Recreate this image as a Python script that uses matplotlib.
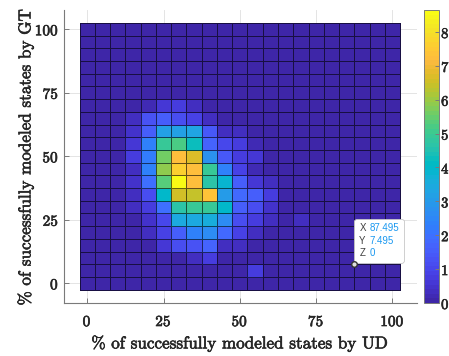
import numpy as np
import matplotlib
matplotlib.use("Agg")
import matplotlib.pyplot as plt
import matplotlib.patheffects as pe
from matplotlib.colors import ListedColormap
from matplotlib.offsetbox import AnnotationBbox, HPacker, TextArea

# Bin centres (percent) for both axes
x_centers = list(range(0, 105, 5))
y_centers = list(range(0, 105, 5))

# Tile values, one row per GT bin, listed from y=100 (top) down to y=0
counts_top_down = [
    [0, 0, 0, 0,   0,   0,   0,   0,   0,   0,   0,   0,   0,   0,   0,   0, 0, 0, 0, 0, 0],   # 100
    [0, 0, 0, 0,   0,   0,   0,   0,   0,   0,   0,   0,   0,   0,   0,   0, 0, 0, 0, 0, 0],   # 95
    [0, 0, 0, 0,   0,   0,   0,   0,   0,   0,   0,   0,   0,   0,   0,   0, 0, 0, 0, 0, 0],   # 90
    [0, 0, 0, 0,   0,   0,   0,   0,   0,   0,   0,   0,   0,   0,   0,   0, 0, 0, 0, 0, 0],   # 85
    [0, 0, 0, 0,   0,   0,   0,   0,   0,   0,   0,   0,   0,   0,   0,   0, 0, 0, 0, 0, 0],   # 80
    [0, 0, 0, 0,   0,   0,   0,   0,   0,   0,   0,   0,   0,   0,   0,   0, 0, 0, 0, 0, 0],   # 75
    [0, 0, 0, 0,   0.2, 0.6, 0.8, 0.4, 0,   0,   0,   0,   0,   0,   0,   0, 0, 0, 0, 0, 0],   # 70
    [0, 0, 0, 0.3, 1.3, 1.5, 1.1, 0.9, 0.3, 0,   0,   0,   0,   0,   0,   0, 0, 0, 0, 0, 0],   # 65
    [0, 0, 0, 0.5, 1.5, 3.2, 3.2, 3.3, 1.4, 0.3, 0.3, 0,   0,   0,   0,   0, 0, 0, 0, 0, 0],   # 60
    [0, 0, 0, 0.6, 2.3, 4.9, 5.2, 4.2, 1.7, 1.0, 0.8, 0.2, 0,   0,   0,   0, 0, 0, 0, 0, 0],   # 55
    [0, 0, 0, 0.7, 2.2, 5.6, 7.2, 6.7, 2.8, 1.4, 0.8, 0.6, 0,   0,   0,   0, 0, 0, 0, 0, 0],   # 50
    [0, 0, 0, 0.3, 2.3, 5.9, 7.7, 7.2, 5.0, 2.3, 0.9, 0.2, 0,   0,   0,   0, 0, 0, 0, 0, 0],   # 45
    [0, 0, 0, 0.5, 2.0, 5.4, 8.6, 7.2, 4.7, 3.9, 1.6, 0.6, 0.3, 0,   0,   0, 0, 0, 0, 0, 0],   # 40
    [0, 0, 0, 0.3, 1.1, 4.0, 6.5, 6.4, 7.3, 3.1, 1.8, 1.6, 0.8, 0,   0,   0, 0, 0, 0, 0, 0],   # 35
    [0, 0, 0, 0.3, 0.8, 2.0, 4.7, 5.0, 5.0, 4.0, 1.5, 1.1, 0.5, 0,   0,   0, 0, 0, 0, 0, 0],   # 30
    [0, 0, 0, 0,   0.5, 1.0, 3.4, 3.4, 3.6, 2.7, 1.2, 0.8, 0.3, 0,   0.4, 0, 0, 0, 0, 0, 0],   # 25
    [0, 0, 0, 0,   0.3, 0.9, 1.6, 2.3, 2.7, 1.8, 0.9, 0.3, 0,   0,   0,   0, 0, 0, 0, 0, 0],   # 20
    [0, 0, 0, 0,   0,   0.6, 1.2, 1.3, 1.7, 0.3, 0.4, 0,   0,   0,   0,   0, 0, 0, 0, 0, 0],   # 15
    [0, 0, 0, 0,   0,   0,   0,   0.3, 0.7, 0,   0,   0,   0,   0,   0,   0, 0, 0, 0, 0, 0],   # 10
    [0, 0, 0, 0,   0,   0,   0,   0,   0,   0,   0,   0.7, 0,   0,   0,   0, 0, 0, 0, 0, 0],   # 5
    [0, 0, 0, 0,   0,   0,   0,   0,   0,   0,   0,   0,   0,   0,   0,   0, 0, 0, 0, 0, 0],   # 0
]

tick_values = [0, 25, 50, 75, 100]
cbar_ticks = [0, 1, 2, 3, 4, 5, 6, 7, 8]

# data tip shown on the figure
tip_x, tip_y, tip_z = 87.495, 7.495, 0

# MATLAB parula (64 entries)
parula_data = [
    [0.2422, 0.1504, 0.6603], [0.2504, 0.1650, 0.7076], [0.2578, 0.1818, 0.7511], [0.2647, 0.1978, 0.7952],
    [0.2706, 0.2147, 0.8364], [0.2751, 0.2342, 0.8710], [0.2783, 0.2559, 0.8991], [0.2803, 0.2782, 0.9221],
    [0.2813, 0.3006, 0.9414], [0.2810, 0.3228, 0.9579], [0.2795, 0.3447, 0.9717], [0.2760, 0.3667, 0.9829],
    [0.2699, 0.3892, 0.9906], [0.2602, 0.4123, 0.9952], [0.2440, 0.4358, 0.9988], [0.2206, 0.4603, 0.9973],
    [0.1963, 0.4847, 0.9892], [0.1834, 0.5074, 0.9798], [0.1786, 0.5289, 0.9682], [0.1764, 0.5499, 0.9520],
    [0.1687, 0.5703, 0.9359], [0.1540, 0.5902, 0.9218], [0.1460, 0.6091, 0.9079], [0.1380, 0.6276, 0.8973],
    [0.1248, 0.6459, 0.8883], [0.1113, 0.6635, 0.8763], [0.0952, 0.6798, 0.8598], [0.0689, 0.6948, 0.8394],
    [0.0297, 0.7082, 0.8163], [0.0036, 0.7203, 0.7917], [0.0067, 0.7312, 0.7660], [0.0433, 0.7411, 0.7394],
    [0.0964, 0.7500, 0.7120], [0.1408, 0.7584, 0.6842], [0.1717, 0.7670, 0.6554], [0.1938, 0.7758, 0.6251],
    [0.2161, 0.7843, 0.5923], [0.2470, 0.7918, 0.5567], [0.2906, 0.7973, 0.5188], [0.3406, 0.8008, 0.4789],
    [0.3909, 0.8029, 0.4354], [0.4456, 0.8024, 0.3909], [0.5044, 0.7993, 0.3480], [0.5616, 0.7942, 0.3045],
    [0.6174, 0.7876, 0.2612], [0.6720, 0.7793, 0.2227], [0.7242, 0.7698, 0.1910], [0.7738, 0.7598, 0.1646],
    [0.8203, 0.7498, 0.1535], [0.8634, 0.7406, 0.1596], [0.9035, 0.7330, 0.1774], [0.9393, 0.7288, 0.2100],
    [0.9728, 0.7298, 0.2394], [0.9956, 0.7434, 0.2371], [0.9970, 0.7659, 0.2199], [0.9952, 0.7893, 0.2028],
    [0.9892, 0.8136, 0.1885], [0.9786, 0.8386, 0.1766], [0.9676, 0.8639, 0.1643], [0.9610, 0.8890, 0.1537],
    [0.9597, 0.9135, 0.1423], [0.9628, 0.9373, 0.1265], [0.9691, 0.9606, 0.1064], [0.9769, 0.9839, 0.0805],
]
parula = ListedColormap(parula_data, name="parula").resampled(256)

plt.rcParams['font.family'] = ['cmr10', 'DejaVu Serif']
plt.rcParams['axes.formatter.use_mathtext'] = True

# slight stroke so the LaTeX-like text looks as heavy as the original render
heavy = [pe.withStroke(linewidth=0.45, foreground='#262626')]

Z = np.array(counts_top_down)[::-1]
x_edges = np.append(np.array(x_centers) - 2.5, x_centers[-1] + 2.5)
y_edges = np.append(np.array(y_centers) - 2.5, y_centers[-1] + 2.5)

fig = plt.figure(figsize=(4.49, 3.56), dpi=100)
ax = fig.add_axes([0.1425, 0.149, 0.786, 0.823])

mesh = ax.pcolormesh(x_edges, y_edges, Z, cmap=parula, vmin=0, vmax=8.65,
                     edgecolors=(0, 0, 0, 0.6), linewidth=0.6, zorder=2)

ax.set_xlim(-7.6, 108)
ax.set_ylim(-7.75, 107.6)
ax.set_xticks(tick_values)
ax.set_yticks(tick_values)
ax.grid(True, color='#e4e4e4', linewidth=0.7, zorder=0)
ax.set_axisbelow(True)
for side in ['top', 'right']:
    ax.spines[side].set_visible(False)
for side in ['left', 'bottom']:
    ax.spines[side].set_color('#7a7a7a')
    ax.spines[side].set_linewidth(0.8)
ax.tick_params(axis='both', direction='in', length=3.5, width=0.7, color='#7a7a7a',
               labelsize=11, labelcolor='#262626')
ax.tick_params(axis='x', pad=8)
ax.tick_params(axis='y', pad=3.5)
for lbl in ax.get_xticklabels() + ax.get_yticklabels():
    lbl.set_path_effects(heavy)

ax.set_xlabel('% of successfully modeled states by UD', fontsize=12.3, color='#262626',
              labelpad=4, path_effects=heavy)
ax.set_ylabel('% of successfully modeled states by GT', fontsize=12.3, color='#262626',
              labelpad=1, path_effects=heavy)

# data tip: box corner sits on the marked point
ax.plot([tip_x], [tip_y], 'o', markersize=4, markerfacecolor='#dddddd',
        markeredgecolor='#333333', markeredgewidth=1.0, zorder=6)
tip_props = dict(fontsize=7, family='Liberation Sans', linespacing=1.3)
names = TextArea('X\nY\nZ', textprops=dict(color='#404040', **tip_props))
vals = TextArea(f'{tip_x}\n{tip_y}\n{tip_z}', textprops=dict(color='#1a98f0', **tip_props))
tip_box = HPacker(children=[names, vals], pad=0, sep=2.5, align='top')
ab = AnnotationBbox(tip_box, (tip_x, tip_y), xybox=(5, 6), boxcoords='offset pixels',
                    box_alignment=(0, 0),
                    bboxprops=dict(boxstyle='round,pad=0.35,rounding_size=0.2',
                                   fc='white', ec='#c8c8c8', lw=0.6),
                    frameon=True, zorder=5)
ax.add_artist(ab)

# colorbar
cax = fig.add_axes([424 / 449, 0.149, 15 / 449, 0.823])
cb = fig.colorbar(mesh, cax=cax, ticks=cbar_ticks)
cb.outline.set_edgecolor('#7a7a7a')
cb.outline.set_linewidth(0.7)
cax.tick_params(direction='in', length=3, width=0.7, color='#7a7a7a', labelsize=10.5,
                labelcolor='#262626', pad=1.5)
for lbl in cax.get_yticklabels():
    lbl.set_path_effects(heavy)

fig.savefig('out.png', dpi=100)
